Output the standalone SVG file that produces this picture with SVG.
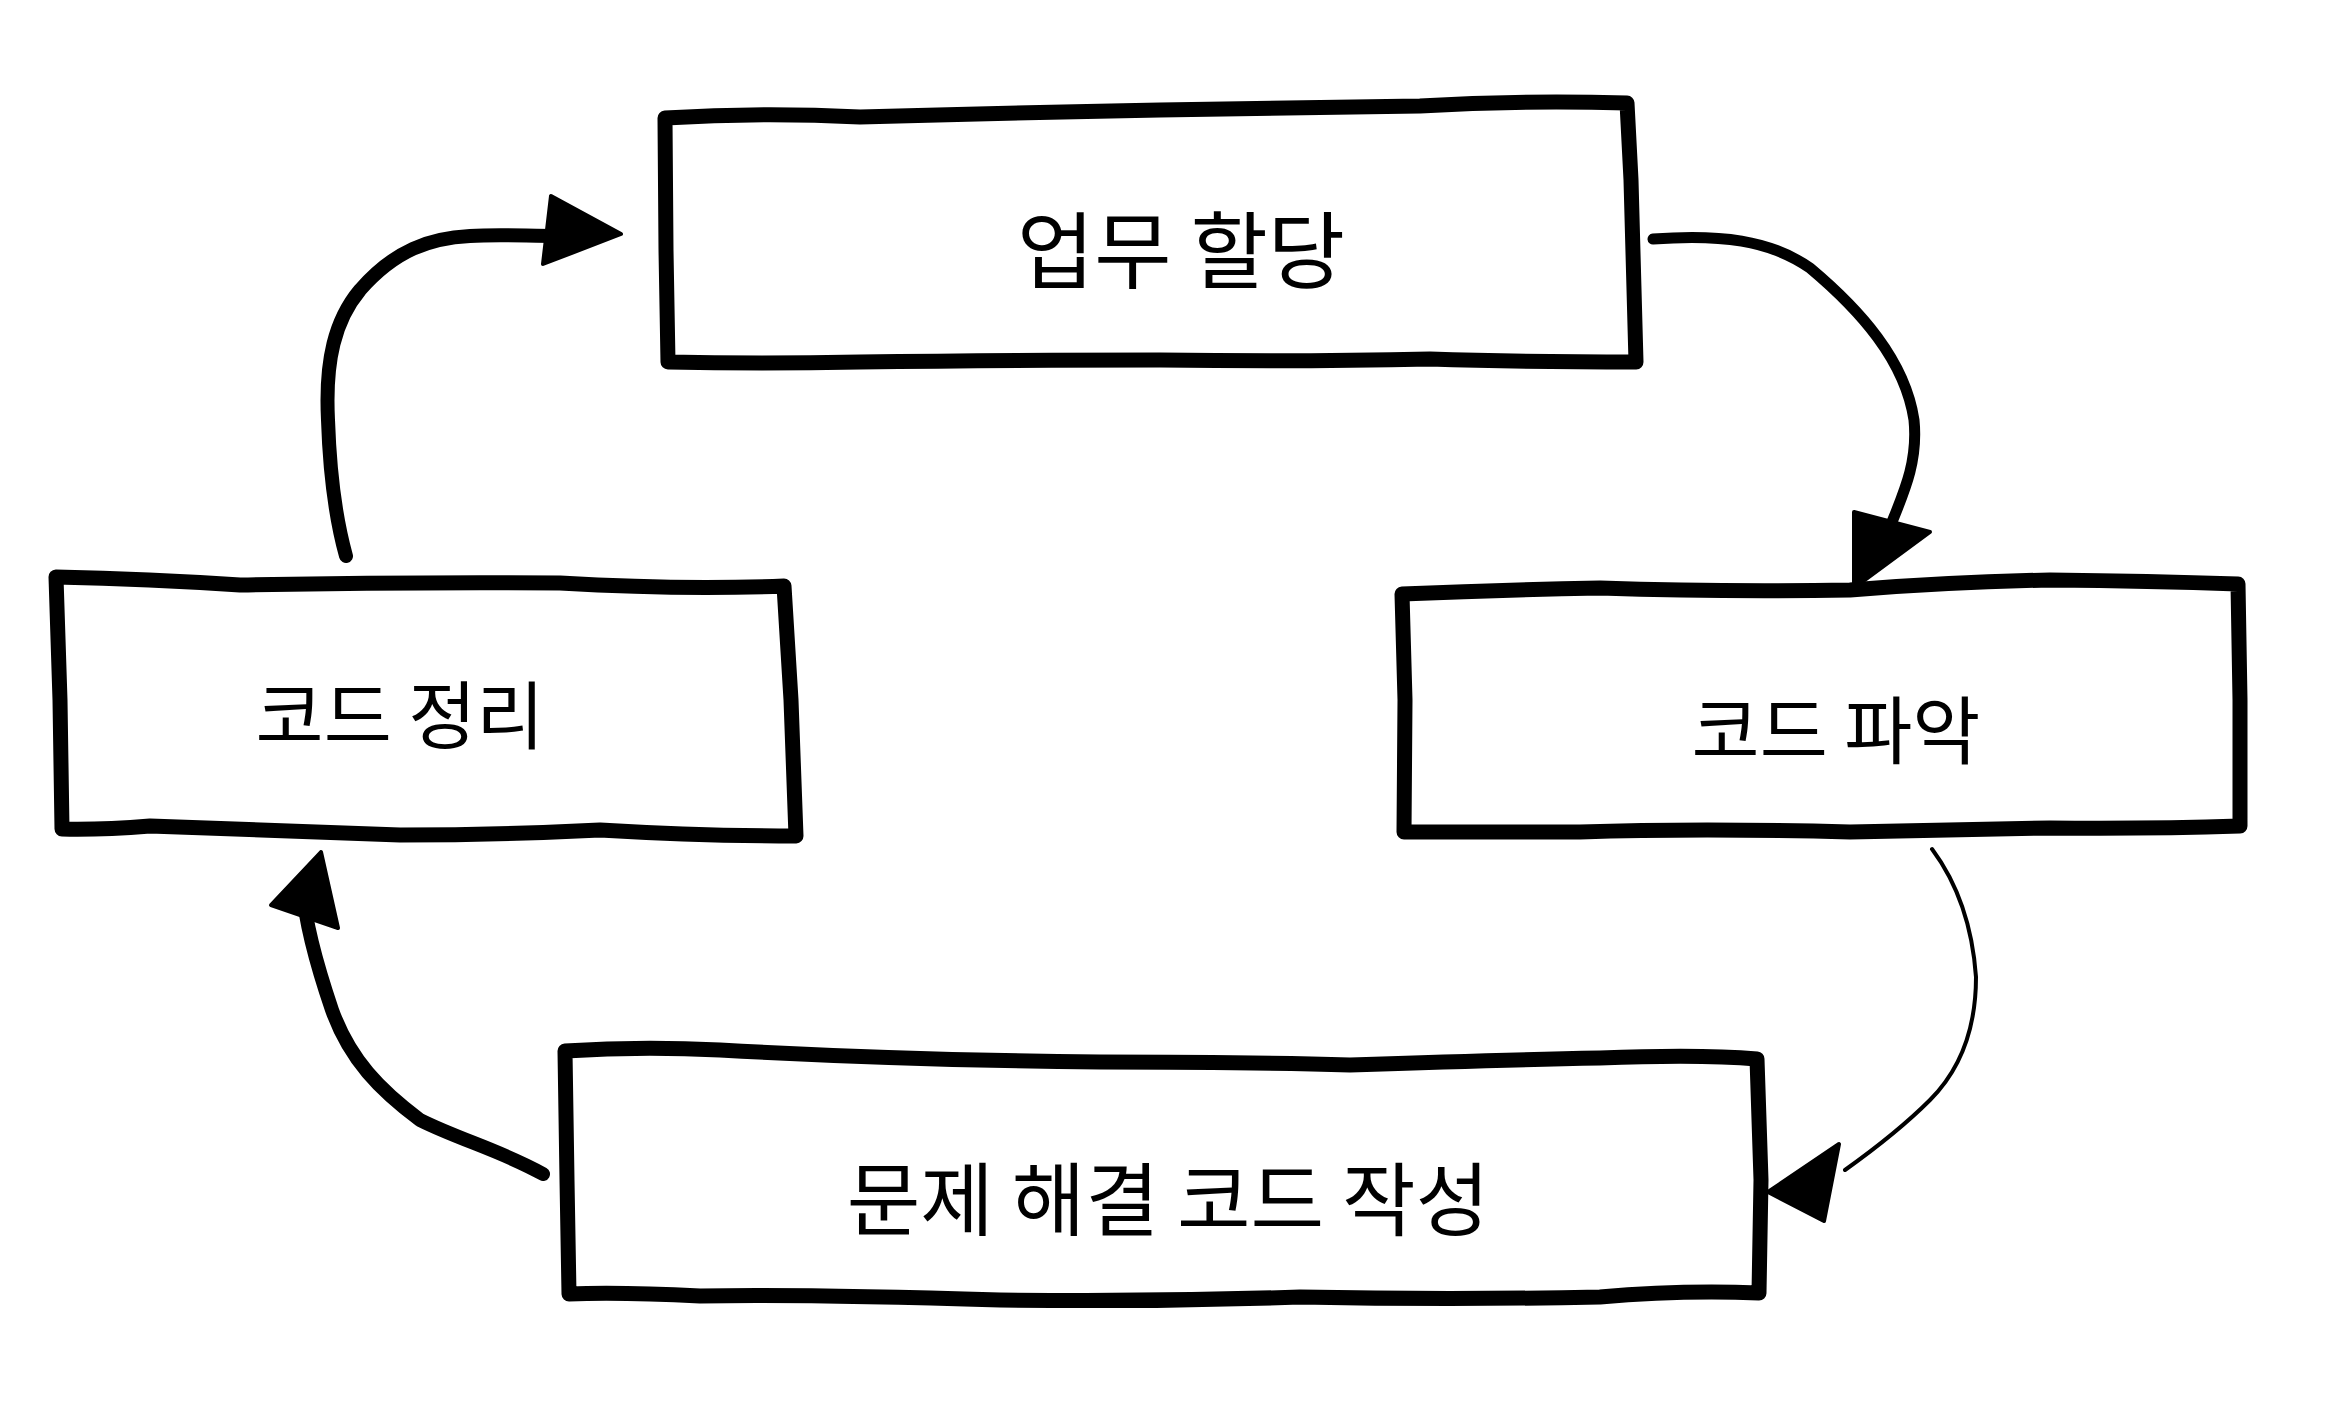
<svg xmlns="http://www.w3.org/2000/svg" width="2332" height="1414" viewBox="0 0 2332 1414">
<style>
.box{fill:none;stroke:#000;stroke-width:15;stroke-linejoin:round;stroke-linecap:round}
.lbl{font-family:"Noto Sans CJK KR","Noto Sans",sans-serif;font-size:74px;fill:#000;text-anchor:middle;dominant-baseline:central}
.con{fill:none;stroke:#000;stroke-linecap:round;stroke-linejoin:round}
.head{fill:#000;stroke:#000;stroke-width:4;stroke-linejoin:round}
</style>
<rect width="2332" height="1414" fill="#fff"/>
<g id="node-assign">
<path class="box" d="M665,118 Q760,112 860,117 Q1000,113 1160,110 Q1300,108 1420,106 Q1520,100 1627,103 L1631,180 L1636,362 Q1520,362 1430,359 Q1300,362 1160,360 Q1000,360 860,362 Q760,364 668,362 L666,250 Z"/>
<text class="lbl" x="1181" y="245" style="font-size:84px">업무 할당</text>
</g>
<g id="node-understand">
<path class="box" d="M1402,594 Q1500,590 1600,588 Q1720,592 1850,590 Q1950,582 2050,580 Q2150,581 2238,584 L2240,700 L2240,826 Q2150,829 2050,828 Q1950,830 1850,832 Q1700,828 1580,832 Q1490,832 1404,832 L1405,700 Z"/>
<text class="lbl" x="1836" y="725">코드 파악</text>
</g>
<g id="node-cleanup">
<path class="box" d="M56,577 Q150,579 240,585 Q400,582 560,583 Q680,590 784,586 L791,700 L796,836 Q700,836 600,830 Q500,835 400,835 Q250,830 150,826 Q100,830 62,829 L60,700 Z"/>
<text class="lbl" x="400" y="710">코드 정리</text>
</g>
<g id="node-write">
<path class="box" d="M565,1051 Q640,1046 720,1050 Q900,1060 1100,1062 Q1250,1062 1350,1065 Q1500,1060 1600,1058 Q1700,1054 1757,1059 L1761,1180 L1759,1293 Q1680,1290 1600,1297 Q1450,1300 1300,1297 Q1150,1302 1000,1300 Q800,1294 700,1296 Q620,1292 569,1294 L567,1180 Z"/>
<text class="lbl" x="1168" y="1194" style="font-size:80px">문제 해결 코드 작성</text>
</g>
<g id="connectors">
<path class="con" stroke-width="14" d="M346,556 C336,520 330,480 328,420 C325,360 335,320 360,290 C395,250 430,238 470,236 C500,234 525,236 560,236"/>
<path class="head" d="M621,234 L551,196 L543,264 Z"/>
<path class="con" stroke-width="11" d="M1653,239 C1720,234 1770,240 1810,268 C1860,310 1905,360 1914,420 C1918,460 1905,490 1892,522"/>
<path class="head" d="M1854,588 L1854,512 L1930,532 Z"/>
<path class="con" stroke-width="4" d="M1932,849 C1955,880 1972,920 1976,977 C1976,1030 1960,1070 1930,1100 C1905,1125 1880,1145 1845,1170"/>
<path class="head" d="M1768,1192 L1839,1144 L1824,1221 Z"/>
<path class="con" stroke-width="14" d="M543,1174 C500,1150 460,1140 420,1120 C380,1090 350,1060 332,1010 C315,960 305,920 303,890"/>
<path class="head" d="M321,852 L271,905 L338,928 Z"/>
</g>
</svg>
